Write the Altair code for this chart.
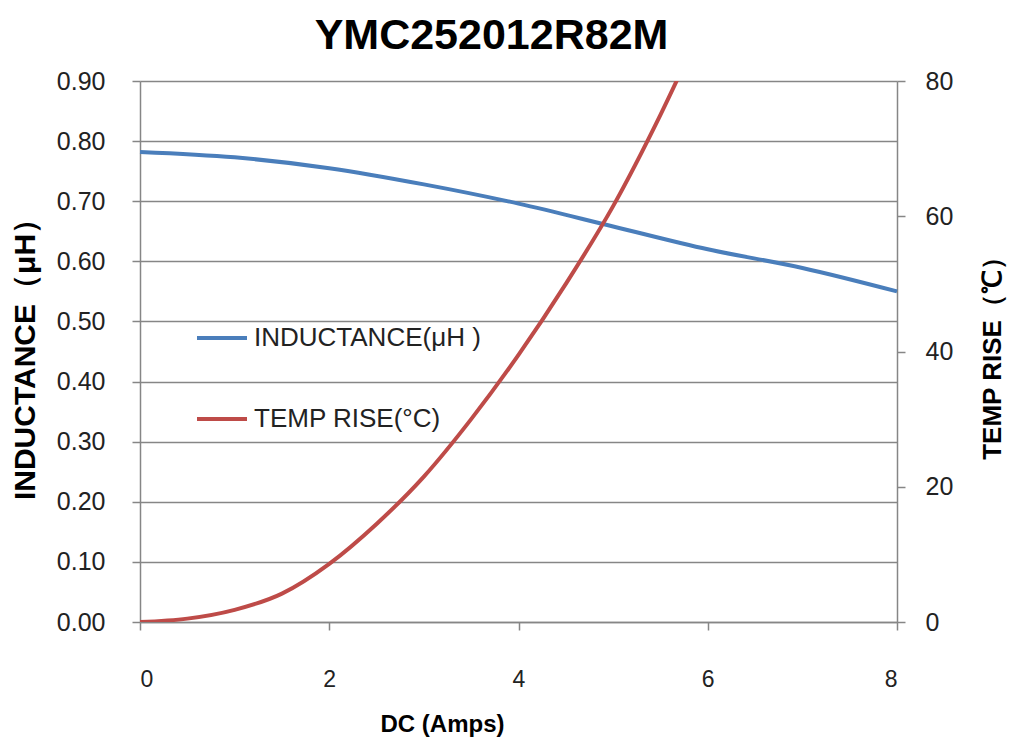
import altair as alt
import pandas as pd

# ---- data ----
series_names = ["INDUCTANCE(μH )", "TEMP RISE(°C)"]
amps_l = [0, 1, 2, 3, 4, 5, 6, 7, 8]
inductance = [0.782, 0.773, 0.755, 0.728, 0.696, 0.658, 0.620, 0.589, 0.550]
amps_t = [0, 0.5, 1, 1.5, 2, 2.5, 3, 3.5, 4, 4.5, 5, 5.5, 6]
temp_rise = [0, 0.5, 1.8, 4.2, 8.6, 14.5, 21.5, 30, 39.5, 50, 61.5, 75, 90]
x_ticks = [0, 2, 4, 6, 8]
l_ticks = [0.0, 0.1, 0.2, 0.3, 0.4, 0.5, 0.6, 0.7, 0.8, 0.9]
t_ticks = [0, 20, 40, 60, 80]
colors = ["#4A7EBB", "#BE4B48"]

df_l = pd.DataFrame({"amps": amps_l, "value": inductance, "series": series_names[0]})
df_t = pd.DataFrame({"amps": amps_t, "value": temp_rise, "series": series_names[1]})

FONT = "Liberation Sans"
GRAY = "#868686"

x_enc = alt.X("amps:Q", scale=alt.Scale(domain=[0, 8], nice=False),
              axis=alt.Axis(values=x_ticks, title="DC (Amps)", grid=False,
                            labelPadding=38, tickSize=8, titlePadding=21,
                            labelFontSize=23, titleFontSize=24,
                            titleX=302))

color_enc = alt.Color(
    "series:N",
    scale=alt.Scale(domain=series_names, range=colors),
    legend=alt.Legend(title=None, orient="none", legendX=55, legendY=230,
                      symbolType="stroke", symbolSize=2500, symbolStrokeWidth=4,
                      labelFontSize=26, labelFont=FONT, labelColor="#222222",
                      labelLimit=600,
                      rowPadding=41, padding=0, labelOffset=5),
)

l_layer = alt.Chart(df_l).mark_line(strokeWidth=4, interpolate="monotone").encode(
    x=x_enc,
    y=alt.Y("value:Q", scale=alt.Scale(domain=[0, 0.9], nice=False),
            axis=alt.Axis(values=l_ticks, format=".2f", title="INDUCTANCE（μH）",
                          grid=True, gridColor=GRAY, gridWidth=1.5,
                          labelFontSize=25, titleFontSize=30,
                          tickSize=8, labelPadding=27, titlePadding=16)),
    color=color_enc,
)

t_layer = alt.Chart(df_t).mark_line(strokeWidth=4, interpolate="monotone", clip=True).encode(
    x=x_enc,
    y=alt.Y("value:Q", scale=alt.Scale(domain=[0, 80], nice=False),
            axis=alt.Axis(orient="right", values=t_ticks, title="TEMP RISE（℃）",
                          grid=False, tickSize=8, labelPadding=20,
                          labelFontSize=25, titleFontSize=26,
                          titlePadding=53, titleAngle=270)),
    color=color_enc,
)

chart = alt.layer(l_layer, t_layer).resolve_scale(y="independent").properties(
    width=757, height=541,
    background="white",
    autosize=alt.AutoSizeParams(type="none"),
    padding={"left": 132, "top": 73, "right": 114, "bottom": 117},
    title=alt.TitleParams("YMC252012R82M", font=FONT, fontSize=43, fontWeight="bold",
                          color="#000000", anchor="middle", frame="group", dx=-27, offset=11),
).configure_view(strokeWidth=0).configure_axis(
    domainColor=GRAY, domainWidth=1.5, tickColor=GRAY, tickWidth=1.5,
    labelFont=FONT, labelColor="#222222",
    titleFont=FONT, titleFontWeight="bold", titleColor="#000000",
)

chart.save("out.html", embed_options={"renderer": "svg", "actions": False})
